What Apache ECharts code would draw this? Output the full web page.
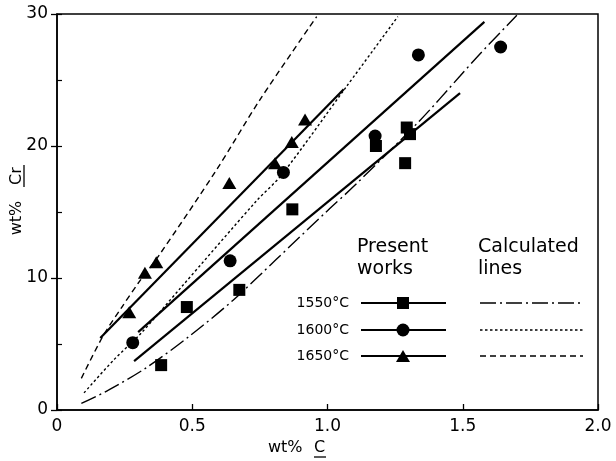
<!DOCTYPE html>
<html>
<head>
<meta charset="utf-8">
<script src="https://cdn.jsdelivr.net/npm/echarts@6/dist/echarts.min.js"></script>
<style>
html, body { margin: 0; padding: 0; background: #fff; }
#chart { width: 616px; height: 461px; }
</style>
</head>
<body>
<div id="chart"></div>
<script>
// measured points (wt% C, wt% Cr)
var points1550 = [[0.385, 3.4], [0.48, 7.8], [0.674, 9.1], [0.87, 15.2], [1.179, 20.0], [1.287, 18.7], [1.293, 21.4], [1.305, 20.9]];
var points1600 = [[0.28, 5.1], [0.64, 11.3], [0.837, 18.0], [1.176, 20.75], [1.336, 26.9], [1.64, 27.5]];
var points1650 = [[0.267, 7.4], [0.325, 10.4], [0.367, 11.2], [0.637, 17.2], [0.806, 18.7], [0.868, 20.3], [0.917, 22.0]];

// present works lines, end points
var fit1550 = [[0.285, 3.7], [1.49, 24.0]];
var fit1600 = [[0.30, 5.9], [1.58, 29.4]];
var fit1650 = [[0.16, 5.45], [1.06, 24.3]];

// calculated lines
var calc1550 = [[0.09, 0.5], [0.19, 1.5], [0.33, 3.2], [0.49, 5.6], [0.65, 8.3], [0.81, 11.4], [1.00, 15.1], [1.10, 17.0], [1.34, 21.9], [1.49, 25.3], [1.56, 26.9], [1.70, 29.9]];
var calc1600 = [[0.10, 1.3], [0.21, 3.8], [0.31, 5.8], [0.455, 9.2], [0.74, 15.9], [0.83, 17.8], [1.07, 24.5], [1.26, 29.8]];
var calc1650 = [[0.09, 2.4], [0.17, 5.6], [0.24, 7.8], [0.30, 9.6], [0.38, 11.8], [0.59, 18.2], [0.75, 23.5], [0.96, 29.8]];

var xTickLabels = ['0', '0.5', '1.0', '1.5', '2.0'];
var tempLabels = ['1550\u00b0C', '1600\u00b0C', '1650\u00b0C'];

var FONT = 'DejaVu Sans';
var INK = '#000';

var calcDash = [[16, 4, 2, 4], [2.5, 2.5], [6, 4]];
var fitSymbols = ['rect', 'circle', 'triangle'];
var symbolSizes = [[12, 12], [13, 13], [14, 12]];

function fitSeries(data) {
    return {
        type: 'line', data: data, showSymbol: false, silent: true,
        lineStyle: { color: INK, width: 2.2, opacity: 1 }
    };
}

function calcSeries(data, dash) {
    return {
        type: 'line', data: data, showSymbol: false, silent: true, smooth: 0.3,
        lineStyle: { color: INK, width: 1.4, type: dash, opacity: 1 }
    };
}

function pointSeries(data, i) {
    return {
        type: 'scatter', data: data, symbol: fitSymbols[i], symbolSize: symbolSizes[i],
        itemStyle: { color: INK, opacity: 1 }, z: 5
    };
}

// legend drawn by hand, like the printed figure
function legendGraphics() {
    var items = [];
    var rowsY = [303, 330, 356];
    items.push({ type: 'text', left: 357, top: 238, style: { text: 'Present', font: '19px ' + FONT, fill: INK } });
    items.push({ type: 'text', left: 357, top: 260, style: { text: 'works', font: '19px ' + FONT, fill: INK } });
    items.push({ type: 'text', left: 478, top: 238, style: { text: 'Calculated', font: '19px ' + FONT, fill: INK } });
    items.push({ type: 'text', left: 478, top: 260, style: { text: 'lines', font: '19px ' + FONT, fill: INK } });
    rowsY.forEach(function (y, i) {
        items.push({ type: 'text', x: 349, y: y, style: { text: tempLabels[i], font: '14px ' + FONT, fill: INK, align: 'right', verticalAlign: 'middle' } });
        items.push({ type: 'line', shape: { x1: 361, y1: y, x2: 446, y2: y }, style: { stroke: INK, lineWidth: 2 } });
        items.push({ type: 'line', shape: { x1: 480, y1: y, x2: 583, y2: y }, style: { stroke: INK, lineWidth: 1.4, lineDash: calcDash[i] } });
    });
    items.push({ type: 'rect', shape: { x: 397, y: 297, width: 12, height: 12 }, style: { fill: INK } });
    items.push({ type: 'circle', shape: { cx: 403, cy: 330, r: 6.5 }, style: { fill: INK } });
    items.push({ type: 'polygon', shape: { points: [[403, 350], [410, 362], [396, 362]] }, style: { fill: INK } });
    return items;
}

function axisTitleGraphics() {
    return [
        { type: 'text', left: 268, top: 440, style: { text: 'wt%', font: '16px ' + FONT, fill: INK } },
        { type: 'text', left: 314, top: 440, style: { text: 'C', font: '16px ' + FONT, fill: INK } },
        { type: 'line', shape: { x1: 314, y1: 457, x2: 326, y2: 457 }, style: { stroke: INK, lineWidth: 1.3 } },
        { type: 'text', x: 17, y: 218, rotation: Math.PI / 2, style: { text: 'wt%', font: '16px ' + FONT, fill: INK, align: 'center', verticalAlign: 'middle' } },
        { type: 'text', x: 17, y: 176, rotation: Math.PI / 2, style: { text: 'Cr', font: '16px ' + FONT, fill: INK, align: 'center', verticalAlign: 'middle' } },
        { type: 'line', shape: { x1: 24, y1: 165, x2: 24, y2: 187 }, style: { stroke: INK, lineWidth: 1.3 } }
    ];
}

var chart = echarts.init(document.getElementById('chart'), null, { renderer: 'canvas' });
chart.setOption({
    animation: false,
    backgroundColor: '#fff',
    grid: { left: 57, right: 18, top: 14, bottom: 51, show: true, borderColor: INK, borderWidth: 1.5 },
    xAxis: {
        type: 'value', min: 0, max: 2, interval: 0.5,
        axisLine: { lineStyle: { color: INK, width: 1.5 } },
        axisTick: { inside: true, length: 6, lineStyle: { color: INK, width: 1.3 } },
        axisLabel: {
            color: INK, fontFamily: FONT, fontSize: 17, margin: 8,
            formatter: function (v) { return xTickLabels[Math.round(v / 0.5)]; }
        },
        splitLine: { show: false }
    },
    yAxis: [{
        type: 'value', min: 0, max: 30, interval: 10,
        axisLine: { lineStyle: { color: INK, width: 1.5 } },
        axisTick: { length: 6, lineStyle: { color: INK, width: 1.3 } },
        axisLabel: { color: INK, fontFamily: FONT, fontSize: 17, margin: 9 },
        splitLine: { show: false }
    }, {
        type: 'value', min: 0, max: 30, interval: 5, position: 'left',
        axisLine: { show: false },
        axisTick: { inside: true, length: 5, lineStyle: { color: INK, width: 1.2 } },
        axisLabel: { show: false },
        splitLine: { show: false }
    }],
    series: [
        calcSeries(calc1550, calcDash[0]),
        calcSeries(calc1600, calcDash[1]),
        calcSeries(calc1650, calcDash[2]),
        fitSeries(fit1550),
        fitSeries(fit1600),
        fitSeries(fit1650),
        pointSeries(points1550, 0),
        pointSeries(points1600, 1),
        pointSeries(points1650, 2)
    ],
    graphic: legendGraphics().concat(axisTitleGraphics())
});
</script>
</body>
</html>
